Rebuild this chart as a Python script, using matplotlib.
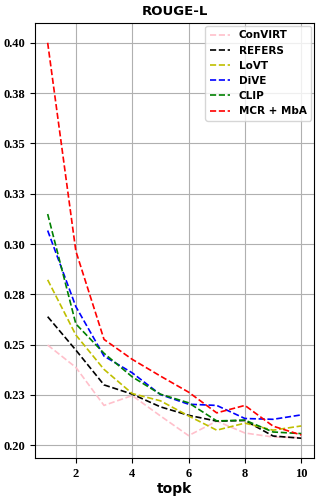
import matplotlib
matplotlib.use("Agg")
import matplotlib.pyplot as plt
from matplotlib.ticker import MultipleLocator, FormatStrFormatter

topk = [1, 2, 3, 4, 5, 6, 7, 8, 9, 10]

convirt = [0.2498, 0.2387, 0.2198, 0.2247, 0.2146, 0.2048, 0.2120, 0.2061, 0.2041, 0.2038]
refers = [0.2639, 0.2473, 0.2300, 0.2254, 0.2191, 0.2149, 0.2120, 0.2123, 0.2046, 0.2035]
lovt = [0.2822, 0.2548, 0.2377, 0.2257, 0.2221, 0.2146, 0.2075, 0.2110, 0.2075, 0.2096]
dive = [0.3067, 0.2689, 0.2443, 0.2360, 0.2252, 0.2204, 0.2198, 0.2133, 0.2129, 0.2151]
clip = [0.3149, 0.2603, 0.2457, 0.2340, 0.2254, 0.2211, 0.2121, 0.2125, 0.2066, 0.2058]
mcr_mba = [0.4000, 0.2965, 0.2526, 0.2427, 0.2344, 0.2264, 0.2161, 0.2198, 0.2095, 0.2051]

series = [
    ("ConVIRT", convirt, "pink"),
    ("REFERS", refers, "k"),
    ("LoVT", lovt, "y"),
    ("DiVE", dive, "b"),
    ("CLIP", clip, "g"),
    ("MCR + MbA", mcr_mba, "r"),
]

fig, ax = plt.subplots(figsize=(3.21, 5.0), dpi=100)
fig.subplots_adjust(left=0.109, right=0.978, top=0.954, bottom=0.084)

for name, vals, c in series:
    ax.plot(topk, vals, linestyle="--", color=c, linewidth=1.2, label=name)

ax.set_title("ROUGE-L", fontsize=9.5, fontweight="bold")
ax.set_xlabel("topk", fontsize=10, fontweight="bold", labelpad=2)
ax.yaxis.set_major_locator(MultipleLocator(0.025))
ax.yaxis.set_major_formatter(FormatStrFormatter("%.2f"))
ax.xaxis.set_major_locator(MultipleLocator(2))
for lab in ax.get_xticklabels() + ax.get_yticklabels():
    lab.set_fontfamily("Liberation Serif")
    lab.set_fontweight("bold")
    lab.set_fontsize(9)
ax.grid(True, color="#b0b0b0", linewidth=0.8)
ax.set_axisbelow(True)

leg = ax.legend(loc="upper right", prop={"weight": "bold", "size": 7.5},
                handlelength=2, borderaxespad=0.3)

plt.savefig("out.png", dpi=100)
